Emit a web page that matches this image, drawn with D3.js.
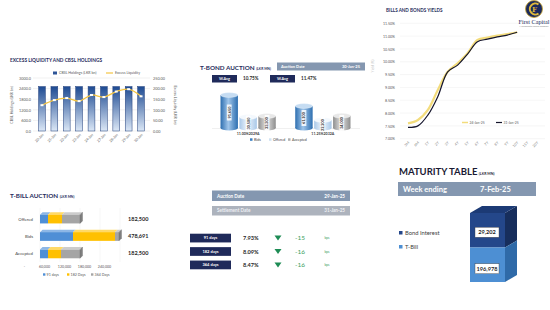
<!DOCTYPE html>
<html>
<head>
<meta charset="utf-8">
<script src="https://cdn.jsdelivr.net/npm/d3@7"></script>
<style>
  body { margin: 0; background: #fff; }
  svg { display: block; font-family: Lato, "Open Sans", sans-serif; }
</style>
</head>
<body>
<svg width="550" height="310"></svg>
<script>
/* globals d3 */

// ---- data ----
var liqDates = ["20-Jan", "21-Jan", "22-Jan", "23-Jan", "24-Jan", "27-Jan", "28-Jan", "29-Jan", "30-Jan"];
var cbslHoldings = [2515.6, 2515.6, 2515.6, 2515.6, 2515.6, 2515.6, 2515.6, 2515.6, 2515.6];
var excessLiq = [121.6, 145.7, 155.3, 140.9, 169.7, 160.1, 186.1, 197.1, 163.5];
var liqLeftTicks = [0, 600, 1200, 1800, 2400, 3000];
var liqRightTicks = [0, 50, 100, 150, 200, 250];

var yieldTenors = ["3M", "6M", "1Y", "2Y", "3Y", "4Y", "5Y", "6Y", "7Y", "8Y", "9Y", "10Y", "15Y", "20Y"];
var yieldsPrev = [7.60, 7.73, 8.12, 8.90, 9.61, 9.94, 10.33, 10.85, 10.94, 11.02, 11.08, 11.15];
var yieldsCurr = [7.44, 7.50, 7.92, 8.64, 9.61, 9.87, 10.30, 10.78, 10.88, 10.97, 11.04, 11.15];
var yieldDates = ["24-Jan-25", "31-Jan-25"];
var yieldTicks = [7, 7.5, 8, 8.5, 9, 9.5, 10, 10.5, 11, 11.5];

var bondIsins = ["11.00%2029A", "11.25%2032A"];
var bondSeries = ["Bids", "Offered", "Accepted"];
var bondBids = [91650, 61100];
var bondOffered = [30500, 22200];
var bondAccepted = [33300, 34000];
var bondWavg = ["10.75%", "11.47%"];

var billTypes = ["Offered", "Bids", "Accepted"];
var billTenors = ["91 days", "182 Days", "364 Days"];
var bill91 = [24000, 99000, 24000];
var bill182 = [42000, 126000, 39000];
var bill364 = [54000, 12000, 57000];
var billTotals = ["182,500", "478,691", "182,500"];
var billTicks = [0, 60000, 120000, 180000, 240000];

var billRows = ["91 days", "182 days", "364 days"];
var billRates = ["7.93%", "8.09%", "8.47%"];
var billChange = [-15, -16, -16];

var maturityItems = ["Bond Interest", "T-Bill"];
var maturityValues = [29202, 196978];

// ---- setup ----
var svg = d3.select("svg");
var navy = "#1f2d5c";
svg.append("rect").attr("width", 550).attr("height", 310).attr("fill", "#fff");
var defs = svg.append("defs");

function vGrad(id, top, bottom) {
  var g = defs.append("linearGradient").attr("id", id).attr("x1", 0).attr("x2", 0).attr("y1", 0).attr("y2", 1);
  g.append("stop").attr("offset", "0%").attr("stop-color", top);
  g.append("stop").attr("offset", "100%").attr("stop-color", bottom);
}
function hGrad(id, edge, mid) {
  var g = defs.append("linearGradient").attr("id", id).attr("x1", 0).attr("x2", 1).attr("y1", 0).attr("y2", 0);
  g.append("stop").attr("offset", "0%").attr("stop-color", edge);
  g.append("stop").attr("offset", "45%").attr("stop-color", mid);
  g.append("stop").attr("offset", "100%").attr("stop-color", edge);
}
function styleAxis(g, size) {
  g.select(".domain").remove();
  g.selectAll("text").attr("font-size", size).attr("fill", "#595959").attr("font-family", "Lato, sans-serif");
}

// ---- excess liquidity and CBSL holdings ----
var gl = svg.append("g");
gl.append("text").attr("x", 10).attr("y", 62).attr("font-size", 4.8).attr("font-weight", "bold")
  .attr("fill", navy).text("EXCESS LIQUIDITY AND CBSL HOLDINGS");

var xL = d3.scaleBand().domain(liqDates).range([33, 150]).padding(0.45),
    yL = d3.scaleLinear().domain([0, 3000]).range([131, 78]),
    yR = d3.scaleLinear().domain([0, 250]).range([131, 78]);

gl.selectAll(".grid").data(liqLeftTicks).enter().append("line")
  .attr("x1", 33).attr("x2", 150).attr("y1", d => yL(d)).attr("y2", d => yL(d))
  .attr("stroke", "#e3e3e3").attr("stroke-width", 0.5);

gl.append("g").attr("transform", "translate(32,0)")
  .call(d3.axisLeft(yL).tickValues(liqLeftTicks).tickSize(0).tickPadding(1).tickFormat(d3.format(".1f")))
  .call(styleAxis, 3.8);
gl.append("g").attr("transform", "translate(151,0)")
  .call(d3.axisRight(yR).tickValues(liqRightTicks).tickSize(0).tickPadding(2).tickFormat(d3.format(".2f")))
  .call(styleAxis, 3.8);

vGrad("liqBar", "#1d4a92", "#dbe7f6");
gl.selectAll(".bar").data(cbslHoldings).enter().append("rect")
  .attr("x", (d, i) => xL(liqDates[i]))
  .attr("y", d => yL(d))
  .attr("width", xL.bandwidth())
  .attr("height", d => yL(0) - yL(d))
  .attr("fill", "url(#liqBar)").attr("stroke", "#1f3d7a").attr("stroke-width", 0.5);

var liqLine = d3.line()
  .x((d, i) => xL(liqDates[i]) + xL.bandwidth() / 2)
  .y(d => yR(d))
  .curve(d3.curveCatmullRom);
gl.append("path").datum(excessLiq).attr("d", liqLine)
  .attr("fill", "none").attr("stroke", "#f4c542").attr("stroke-width", 1.3);
gl.selectAll(".mk").data(excessLiq).enter().append("rect")
  .attr("x", (d, i) => xL(liqDates[i]) + xL.bandwidth() / 2 - 1.5)
  .attr("y", d => yR(d) - 1)
  .attr("width", 3).attr("height", 2).attr("fill", "#fff");

gl.selectAll(".xl").data(liqDates).enter().append("text")
  .attr("transform", d => "translate(" + (xL(d) + xL.bandwidth() / 2 + 2) + ",135) rotate(-45)")
  .attr("text-anchor", "end").attr("font-size", 3.6).attr("fill", "#595959").text(d => d);

gl.append("text").attr("transform", "translate(13,105) rotate(-90)").attr("text-anchor", "middle")
  .attr("font-size", 3.6).attr("fill", "#595959").text("CBSL Holdings (LKR bn)");
gl.append("text").attr("transform", "translate(174,105) rotate(90)").attr("text-anchor", "middle")
  .attr("font-size", 3.6).attr("fill", "#595959").text("Excess Liquidity (LKR bn)");

gl.append("rect").attr("x", 53).attr("y", 71.5).attr("width", 4).attr("height", 3).attr("fill", "#2e5597");
gl.append("text").attr("x", 59).attr("y", 74.3).attr("font-size", 3.6).attr("fill", "#595959").text("CBSL Holdings (LKR bn)");
gl.append("line").attr("x1", 106).attr("x2", 113).attr("y1", 73).attr("y2", 73).attr("stroke", "#f4c542").attr("stroke-width", 1.2);
gl.append("text").attr("x", 115).attr("y", 74.3).attr("font-size", 3.6).attr("fill", "#595959").text("Excess Liquidity");

// ---- bills and bonds yields ----
var gy = svg.append("g");
gy.append("text").attr("x", 386).attr("y", 12).attr("font-size", 4.6).attr("font-weight", "bold")
  .attr("fill", navy).text("BILLS AND BONDS YIELDS");

var xY = d3.scalePoint().domain(yieldTenors).range([408, 537]),
    yY = d3.scaleLinear().domain([7, 11.5]).range([138.7, 23.3]);

gy.selectAll(".grid").data(yieldTicks).enter().append("line")
  .attr("x1", 400).attr("x2", 545).attr("y1", d => yY(d)).attr("y2", d => yY(d))
  .attr("stroke", "#ececec").attr("stroke-width", 0.5);
gy.append("g").attr("transform", "translate(396,0)")
  .call(d3.axisLeft(yY).tickValues(yieldTicks).tickSize(0).tickPadding(1).tickFormat(d => d.toFixed(2) + "%"))
  .call(styleAxis, 3.6);
gy.selectAll(".xl").data(yieldTenors).enter().append("text")
  .attr("transform", d => "translate(" + (xY(d) + 1.5) + ",143) rotate(-45)")
  .attr("text-anchor", "end").attr("font-size", 3.6).attr("fill", "#7f7f7f").text(d => d);
gy.append("text").attr("transform", "translate(374,66) rotate(-90)").attr("text-anchor", "middle")
  .attr("font-size", 3.4).attr("fill", "#bfbfbf").text("Yield (%)");

var yLine = d3.line().x((d, i) => xY(yieldTenors[i])).y(d => yY(d)).curve(d3.curveCatmullRom);
gy.append("path").datum(yieldsPrev).attr("d", yLine).attr("fill", "none")
  .attr("stroke", "#f3dc7c").attr("stroke-width", 2.2);
gy.append("path").datum(yieldsCurr).attr("d", yLine).attr("fill", "none")
  .attr("stroke", "#14142b").attr("stroke-width", 1.2);

gy.append("line").attr("x1", 462).attr("x2", 468).attr("y1", 122.5).attr("y2", 122.5).attr("stroke", "#f3dc7c").attr("stroke-width", 1.5);
gy.append("text").attr("x", 469.5).attr("y", 123.8).attr("font-size", 3.4).attr("fill", "#595959").text(yieldDates[0]);
gy.append("line").attr("x1", 496).attr("x2", 502).attr("y1", 122.5).attr("y2", 122.5).attr("stroke", "#14142b").attr("stroke-width", 1.2);
gy.append("text").attr("x", 503.5).attr("y", 123.8).attr("font-size", 3.4).attr("fill", "#595959").text(yieldDates[1]);

// logo
var lg = svg.append("g");
lg.append("circle").attr("cx", 534).attr("cy", 9).attr("r", 8.5).attr("fill", "#1b2a5c").attr("stroke", "#c9a227").attr("stroke-width", 0.8);
lg.append("path").attr("d", "M538.5,4.5 A5.5,5.5 0 1 0 538.5,13.5").attr("fill", "none").attr("stroke", "#e0b93a").attr("stroke-width", 2);
lg.append("text").attr("x", 534.5).attr("y", 11.5).attr("text-anchor", "middle").attr("font-size", 7)
  .attr("font-family", "DejaVu Serif, serif").attr("font-weight", "bold").attr("fill", "#e0b93a").text("F");
lg.append("text").attr("x", 534).attr("y", 23.5).attr("text-anchor", "middle").attr("font-size", 6.2)
  .attr("font-family", "Liberation Serif, serif").attr("fill", "#1b2a5c").text("First Capital");
lg.append("text").attr("x", 534).attr("y", 27).attr("text-anchor", "middle").attr("font-size", 2.2)
  .attr("fill", "#7f7f7f").text("A Janashakthi Group Company");

// ---- T-bond auction ----
var gb = svg.append("g");
var tb = gb.append("text").attr("x", 200).attr("y", 70).attr("font-size", 6.3).attr("font-weight", "bold").attr("fill", navy);
tb.append("tspan").text("T-BOND AUCTION");
tb.append("tspan").attr("font-size", 3.4).attr("dx", 1.5).text("(LKR MN)");

gb.append("rect").attr("x", 277).attr("y", 62.5).attr("width", 88).attr("height", 8).attr("fill", "#8497b0");
gb.append("text").attr("x", 281).attr("y", 68).attr("font-size", 4).attr("font-weight", "bold").attr("fill", "#fff").text("Auction Date");
gb.append("text").attr("x", 360).attr("y", 68).attr("text-anchor", "end").attr("font-size", 4).attr("font-weight", "bold").attr("fill", "#fff").text("30-Jan-25");

bondWavg.forEach(function(w, i) {
  var bx = i === 0 ? 212 : 270;
  gb.append("rect").attr("x", bx).attr("y", 75).attr("width", 25).attr("height", 7.5).attr("fill", "#1f2a5a");
  gb.append("text").attr("x", bx + 12.5).attr("y", 80).attr("text-anchor", "middle").attr("font-size", 3.8)
    .attr("font-weight", "bold").attr("fill", "#fff").text("W.Avg");
  gb.append("text").attr("x", bx + 31).attr("y", 80.3).attr("font-size", 4.6).attr("font-weight", "bold")
    .attr("fill", "#262626").text(w);
});

var xG = d3.scaleBand().domain(bondIsins).range([219, 352]).paddingInner(0.22),
    xS = d3.scaleBand().domain(bondSeries).range([0, xG.bandwidth()]).padding(0.08),
    yB = d3.scaleLinear().domain([0, 100000]).range([128, 92]);

hGrad("cylBids", "#2e6fb0", "#9fc5ea");
hGrad("cylOff", "#a9c8e8", "#eef5fc");
hGrad("cylAcc", "#8e8e8e", "#e3e3e3");
var cylFill = { Bids: "url(#cylBids)", Offered: "url(#cylOff)", Accepted: "url(#cylAcc)" };
var cylTop = { Bids: "#c5dcf2", Offered: "#f3f8fd", Accepted: "#e8e8e8" };

gb.append("line").attr("x1", 212).attr("x2", 360).attr("y1", 128.5).attr("y2", 128.5).attr("stroke", "#e0e0e0").attr("stroke-width", 0.5);

var bondData = [];
bondIsins.forEach(function(b, i) {
  [bondBids[i], bondOffered[i], bondAccepted[i]].forEach(function(v, j) {
    bondData.push({ isin: b, series: bondSeries[j], value: v });
  });
});
var cyl = gb.selectAll(".cyl").data(bondData).enter().append("g");
cyl.each(function(d) {
  var g = d3.select(this),
      x0 = xG(d.isin) + xS(d.series), w = xS.bandwidth(),
      yt = yB(d.value), yb = yB(0), ry = w * 0.14;
  g.append("ellipse").attr("cx", x0 + w / 2).attr("cy", yb).attr("rx", w / 2).attr("ry", ry).attr("fill", cylFill[d.series]);
  g.append("rect").attr("x", x0).attr("y", yt).attr("width", w).attr("height", yb - yt).attr("fill", cylFill[d.series]);
  g.append("ellipse").attr("cx", x0 + w / 2).attr("cy", yt).attr("rx", w / 2).attr("ry", ry)
    .attr("fill", cylTop[d.series]).attr("stroke", "#ffffff").attr("stroke-width", 0.3);
  var ym = (yt + yb) / 2 + 1;
  g.append("rect").attr("x", x0 + w / 2 - 2.4).attr("y", ym - 8).attr("width", 4.8).attr("height", 16).attr("fill", "#fff").attr("opacity", 0.85);
  g.append("text").attr("transform", "translate(" + (x0 + w / 2 + 1.4) + "," + ym + ") rotate(-90)")
    .attr("text-anchor", "middle").attr("font-size", 3.8).attr("font-weight", "bold").attr("fill", "#1f1f1f")
    .text(d3.format(",")(d.value));
});

gb.selectAll(".isin").data(bondIsins).enter().append("text")
  .attr("x", d => xG(d) + xG.bandwidth() / 2).attr("y", 134.5).attr("text-anchor", "middle")
  .attr("font-size", 3.6).attr("font-weight", "bold").attr("fill", "#404040").text(d => d);

var bondLegColor = ["#3a7fc4", "#cfe1f3", "#b0b0b0"];
bondSeries.forEach(function(s, i) {
  var lx = 250 + i * 19;
  gb.append("rect").attr("x", lx).attr("y", 138.3).attr("width", 2.5).attr("height", 2.5).attr("fill", bondLegColor[i]);
  gb.append("text").attr("x", lx + 4).attr("y", 140.8).attr("font-size", 3.6).attr("fill", "#404040").text(s);
});

// ---- T-bill auction ----
var gt = svg.append("g");
var tt = gt.append("text").attr("x", 10).attr("y", 198).attr("font-size", 6.3).attr("font-weight", "bold").attr("fill", navy);
tt.append("tspan").text("T-BILL AUCTION");
tt.append("tspan").attr("font-size", 3.4).attr("dx", 1.5).text("(LKR MN)");

var xT = d3.scaleLinear().domain([0, 240000]).range([40, 120]),
    yT = d3.scaleBand().domain(billTypes).range([206, 267]).padding(0.5);

gt.selectAll(".vgrid").data(billTicks).enter().append("line")
  .attr("x1", d => xT(d)).attr("x2", d => xT(d)).attr("y1", 208).attr("y2", 262)
  .attr("stroke", "#eeeeee").attr("stroke-width", 0.5);
// front edge of the 3D floor sits left of the back wall
gt.append("g").attr("transform", "translate(-16,263)")
  .call(d3.axisBottom(xT).tickValues(billTicks).tickSize(0).tickPadding(2).tickFormat(d => d === 0 ? "-" : d3.format(",")(d)))
  .call(styleAxis, 3.6);

var billRowsData = billTypes.map(function(t, i) {
  var o = { type: t };
  o[billTenors[0]] = bill91[i]; o[billTenors[1]] = bill182[i]; o[billTenors[2]] = bill364[i];
  return o;
});
var stack = d3.stack().keys(billTenors)(billRowsData);
var billFront = ["#4f8fd6", "#ffc000", "#a5a5a5"],
    billTopC = ["#8db7e6", "#ffd966", "#cccccc"],
    billEnd = ["#3a6fa8", "#cc9a00", "#7f7f7f"];
var dx = 2.5, dy = -2.5;

stack.forEach(function(layer, k) {
  layer.forEach(function(seg, i) {
    var x0 = xT(seg[0]), x1 = xT(seg[1]), y0 = yT(billTypes[i]), h = yT.bandwidth();
    gt.append("polygon")
      .attr("points", [[x0, y0], [x1, y0], [x1 + dx, y0 + dy], [x0 + dx, y0 + dy]].join(" "))
      .attr("fill", billTopC[k]);
    gt.append("rect").attr("x", x0).attr("y", y0).attr("width", x1 - x0).attr("height", h).attr("fill", billFront[k]);
    if (k === stack.length - 1) {
      gt.append("polygon")
        .attr("points", [[x1, y0], [x1 + dx, y0 + dy], [x1 + dx, y0 + dy + h], [x1, y0 + h]].join(" "))
        .attr("fill", billEnd[k]).attr("stroke", "#595959").attr("stroke-width", 0.3);
    }
  });
});

gt.selectAll(".cat").data(billTypes).enter().append("text")
  .attr("x", 33).attr("y", d => yT(d) + yT.bandwidth() / 2 + 1.5).attr("text-anchor", "end")
  .attr("font-size", 4.3).attr("fill", "#404040").text(d => d);
gt.selectAll(".tot").data(billTotals).enter().append("text")
  .attr("x", 128).attr("y", (d, i) => yT(billTypes[i]) + yT.bandwidth() / 2 + 1.5)
  .attr("font-size", 5.5).attr("font-weight", "bold").attr("fill", "#1f1f1f").text(d => d);

billTenors.forEach(function(t, i) {
  var lx = 43 + i * 24;
  gt.append("rect").attr("x", lx).attr("y", 273.3).attr("width", 2.4).attr("height", 2.4).attr("fill", billFront[i]);
  gt.append("text").attr("x", lx + 3.6).attr("y", 275.7).attr("font-size", 3.6).attr("fill", "#595959").text(t);
});

// ---- T-bill results panel ----
var gp = svg.append("g");
gp.append("rect").attr("x", 212).attr("y", 190.5).attr("width", 138).attr("height", 10.5).attr("fill", "#8497b0");
gp.append("text").attr("x", 217).attr("y", 197.5).attr("font-size", 4.6).attr("font-weight", "bold").attr("fill", "#fff").text("Auction Date");
gp.append("text").attr("x", 345).attr("y", 197.5).attr("text-anchor", "end").attr("font-size", 4.6).attr("font-weight", "bold").attr("fill", "#fff").text("29-Jan-25");
gp.append("rect").attr("x", 212).attr("y", 206).attr("width", 138).attr("height", 9.5).attr("fill", "#adb3bd");
gp.append("text").attr("x", 217).attr("y", 212.4).attr("font-size", 4.6).attr("font-weight", "bold").attr("fill", "#eef0f4").text("Settlement Date");
gp.append("text").attr("x", 345).attr("y", 212.4).attr("text-anchor", "end").attr("font-size", 4.6).attr("font-weight", "bold").attr("fill", "#eef0f4").text("31-Jan-25");

var yP = d3.scaleBand().domain(billRows).range([229, 274]).padding(0.35);
billRows.forEach(function(r, i) {
  var y0 = yP(r), h = yP.bandwidth(), cy = y0 + h / 2;
  gp.append("rect").attr("x", 190).attr("y", y0).attr("width", 41).attr("height", h).attr("fill", "#1f2a5a");
  gp.append("text").attr("x", 210.5).attr("y", cy + 1.4).attr("text-anchor", "middle").attr("font-size", 4)
    .attr("font-weight", "bold").attr("fill", "#fff").text(r);
  gp.append("text").attr("x", 243).attr("y", cy + 2).attr("font-size", 5.6).attr("font-weight", "bold")
    .attr("fill", "#1f1f1f").text(billRates[i]);
  gp.append("path").attr("d", "M274.5," + (cy - 2.5) + " L281.5," + (cy - 2.5) + " L278," + (cy + 2.5) + " Z")
    .attr("fill", "#1e8c55");
  gp.append("text").attr("x", 300).attr("y", cy + 2.3).attr("text-anchor", "middle").attr("font-size", 6.5)
    .attr("fill", "#3aa060").text(billChange[i]);
  gp.append("text").attr("x", 327).attr("y", cy + 1.2).attr("text-anchor", "middle").attr("font-size", 3.2)
    .attr("fill", "#3aa060").text("bps");
});

// ---- maturity table ----
var gm = svg.append("g");
var mt = gm.append("text").attr("x", 399).attr("y", 175).attr("font-size", 9.5).attr("font-weight", "bold").attr("fill", "#1a1a33");
mt.append("tspan").text("MATURITY TABLE");
mt.append("tspan").attr("font-size", 3.6).attr("dx", 1.5).text("(LKR MN)");

gm.append("rect").attr("x", 398).attr("y", 182).attr("width", 138).attr("height", 14).attr("fill", "#8497b0");
gm.append("text").attr("x", 403).attr("y", 192).attr("font-size", 7.5).attr("font-weight", "bold").attr("fill", "#fff").text("Week ending");
gm.append("text").attr("x", 480).attr("y", 192).attr("font-size", 7.5).attr("font-weight", "bold").attr("fill", "#fff").text("7-Feb-25");

var yM = d3.scaleBand().domain(maturityItems).range([213, 282]),
    mx0 = 470, mx1 = 505, mdx = 12, mdy = -7;
var matFront = ["#24478a", "#4d8fd3"],
    matSide = ["#172e5c", "#2f6aa8"];

maturityItems.forEach(function(m, i) {
  var y0 = yM(m), y1 = y0 + yM.bandwidth();
  gm.append("rect").attr("x", mx0).attr("y", y0).attr("width", mx1 - mx0).attr("height", y1 - y0).attr("fill", matFront[i]);
  gm.append("polygon")
    .attr("points", [[mx1, y0], [mx1 + mdx, y0 + mdy], [mx1 + mdx, y1 + mdy], [mx1, y1]].join(" "))
    .attr("fill", matSide[i]);
  if (i === 0) {
    gm.append("polygon")
      .attr("points", [[mx0, y0], [mx1, y0], [mx1 + mdx, y0 + mdy], [mx0 + mdx, y0 + mdy]].join(" "))
      .attr("fill", "#1c3a75");
  }
  var cy = (y0 + y1) / 2 + (i === 0 ? 2 : 4);
  gm.append("rect").attr("x", 475).attr("y", cy - 5).attr("width", 24).attr("height", 10)
    .attr("fill", "#fff").attr("stroke", "#404040").attr("stroke-width", 0.4);
  gm.append("text").attr("x", 487).attr("y", cy + 2).attr("text-anchor", "middle").attr("font-size", 5.6)
    .attr("font-weight", "bold").attr("fill", "#1f1f1f").text(d3.format(",")(maturityValues[i]));

  var ly = 233 + i * 14;
  gm.append("rect").attr("x", 399).attr("y", ly - 2).attr("width", 3.5).attr("height", 3.5).attr("fill", matFront[i]);
  gm.append("text").attr("x", 405).attr("y", ly + 1.6).attr("font-size", 5.8).attr("fill", "#404040").text(m);
});
</script>
</body>
</html>
